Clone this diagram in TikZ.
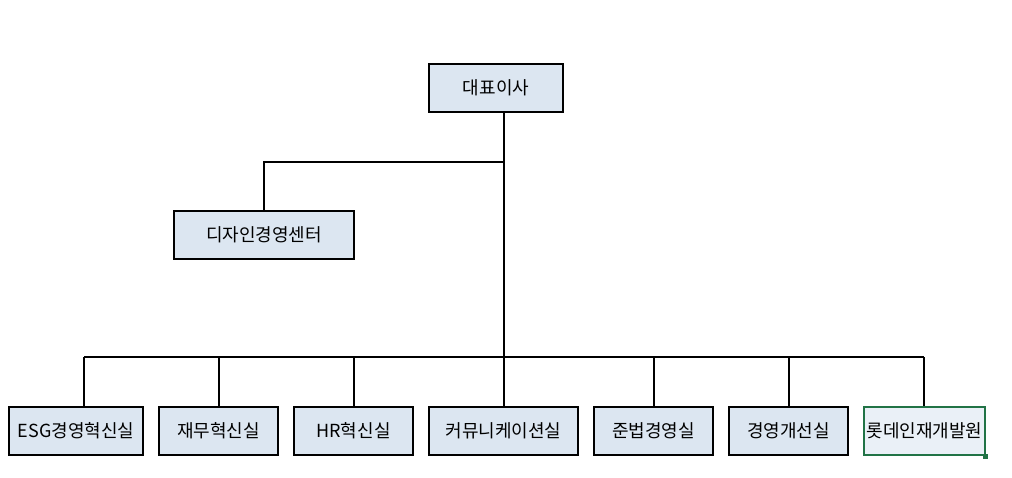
\documentclass[tikz,border=0pt]{standalone}
\usepackage{fontspec}
\setmainfont{Noto Sans CJK KR}
\begin{document}
\begin{tikzpicture}[x=1pt,y=-1pt,
  box/.style={draw=black,line width=1.3pt,fill=boxfill,minimum height=48pt,inner sep=0pt,font=\fontsize{18}{21}\selectfont},
  conn/.style={line width=1.3pt}]
\definecolor{boxfill}{HTML}{DCE6F1}
\definecolor{selgreen}{HTML}{217346}
\useasboundingbox (0,0) rectangle (1012,478);
\node[box,minimum width=134pt] (ceo) at (496,88) {대표이사};
\node[box,minimum width=180pt] (design) at (264,235) {디자인경영센터};
\node[box,minimum width=134pt] (b1) at (76,431) {ESG경영혁신실};
\node[box,minimum width=119pt] (b2) at (218.5,431) {재무혁신실};
\node[box,minimum width=119pt] (b3) at (353.5,431) {HR혁신실};
\node[box,minimum width=149pt] (b4) at (503.5,431) {커뮤니케이션실};
\node[box,minimum width=119pt] (b5) at (653.5,431) {준법경영실};
\node[box,minimum width=119pt] (b6) at (788.5,431) {경영개선실};
\node[box,draw=selgreen,fill=boxfill!60,minimum width=121pt] (b7) at (924.5,431) {롯데인재개발원};
\fill[selgreen] (983,454) rectangle (988,459);
\coordinate (j1) at (504,162);
\coordinate (j2) at (504,357);
\draw[conn] (ceo.south -| j1) -- (j2);
\draw[conn] (j1) -| (design.north);
\draw[conn] (84,357) -- (924,357);
\foreach \b/\x in {b1/84,b2/219,b3/354,b4/504,b5/654,b6/789,b7/924}
  \draw[conn] (\x,357) -- (\b.north -| \x,0);
\end{tikzpicture}
\end{document}
